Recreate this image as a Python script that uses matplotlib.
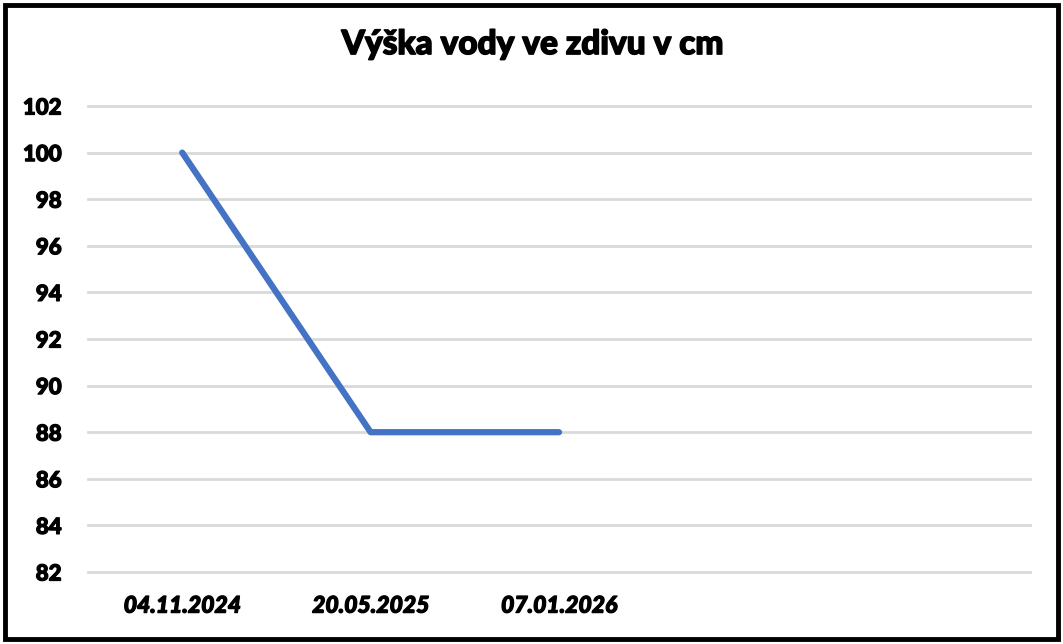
import numpy as np
import matplotlib.pyplot as plt
import matplotlib.patheffects as pe
from matplotlib.patches import Rectangle

# data
dates = ['04.11.2024', '20.05.2025', '07.01.2026', '', '']
heights = [100, 88, 88, np.nan, np.nan]
yticks = list(range(82, 103, 2))

fam = ['Lato', 'DejaVu Sans']
heavy = [pe.withStroke(linewidth=0.9, foreground='black')]

fig = plt.figure(figsize=(10.63, 6.44), dpi=100)
ax = fig.add_axes([0.0828, 0.1118, 0.8862, 0.7236])

x = np.arange(len(dates))
ax.plot(x, heights, color='#4472C4', lw=4.5, solid_capstyle='round', zorder=3)

ax.set_xlim(-0.5, len(dates) - 0.5)
ax.set_ylim(82, 102)
ax.set_yticks(yticks)
ax.set_yticklabels([str(v) for v in yticks], family=fam, fontsize=16, fontweight='black')
ax.set_xticks(x)
ax.set_xticklabels(dates, family=fam, fontsize=16.5, fontweight='black', style='italic')
for t in ax.get_xticklabels() + ax.get_yticklabels():
    t.set_path_effects(heavy)
ax.tick_params(axis='y', length=0, pad=19)
ax.tick_params(axis='x', length=0, pad=17)
ax.grid(axis='y', color='#D9D9D9', lw=2)
for gl in ax.get_ygridlines():
    gl.set_clip_on(False)
ax.set_axisbelow(True)
for s in ax.spines.values():
    s.set_visible(False)

fig.text(0.501, 0.916, 'Výška vody ve zdivu v cm', family=fam, fontsize=24,
         fontweight='black', ha='center', va='baseline',
         path_effects=[pe.withStroke(linewidth=1.1, foreground='black')])

# outer frame
fig.patches.append(Rectangle((0.005, 0.007), 0.99, 0.986, transform=fig.transFigure,
                             fill=False, ec='black', lw=3.5))

fig.savefig('out.png', dpi=100)
